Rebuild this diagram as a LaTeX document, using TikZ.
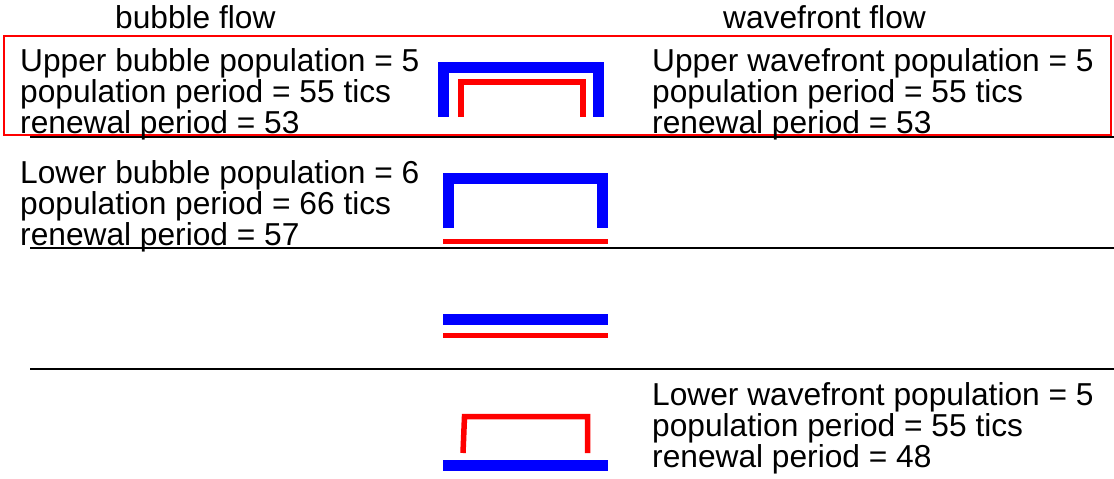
\documentclass[tikz,border=0pt]{standalone}
\usepackage{fontspec}
\setmainfont{Liberation Sans}
\begin{document}
\begin{tikzpicture}[x=1pt,y=-1pt,
  lbl/.style={anchor=base west,inner sep=0pt,font=\fontsize{31.7}{31}\selectfont},
  bluebar/.style={draw=blue,line width=11pt,line cap=butt,line join=miter},
  redbar/.style={draw=red,line width=5.5pt,line cap=butt,line join=miter},
  rule/.style={draw=black,line width=2pt}]
\useasboundingbox (0,0) rectangle (1114,479);
% titles
\node[lbl] (t1) at (115,28) {bubble flow};
\node[lbl] (t2) at (723,28) {wavefront flow};
% separator lines
\draw[rule] (30,137) -- (1114,137);
\draw[rule] (30,248) -- (1114,248);
\draw[rule] (30,369) -- (1114,369);
% highlight box
\draw[red,line width=2pt] (4,35.5) rectangle (1110.5,134.5);
% upper bubble text
\node[lbl] (ub1) at (20,71) {Upper bubble population = 5};
\node[lbl] (ub2) at (20,102) {population period = 55 tics};
\node[lbl] (ub3) at (20,133) {renewal period = 53};
% upper wavefront text
\node[lbl] (uw1) at (652,71) {Upper wavefront population = 5};
\node[lbl] (uw2) at (652,102) {population period = 55 tics};
\node[lbl] (uw3) at (652,133) {renewal period = 53};
% lower bubble text
\node[lbl] (lb1) at (20,183) {Lower bubble population = 6};
\node[lbl] (lb2) at (20,214) {population period = 66 tics};
\node[lbl] (lb3) at (20,245) {renewal period = 57};
% lower wavefront text
\node[lbl] (lw1) at (652,405) {Lower wavefront population = 5};
\node[lbl] (lw2) at (652,436) {population period = 55 tics};
\node[lbl] (lw3) at (652,467) {renewal period = 48};
% row 1 shapes
\draw[bluebar] (443.5,117) -- (443.5,67.5) -- (598,67.5) -- (598,117);
\draw[redbar,line width=6pt] (461,117) -- (461,82) -- (583,82) -- (583,117);
% row 2 shapes
\draw[bluebar] (448,228) -- (448,178) -- (602,178) -- (602,228);
\draw[redbar] (443,241.5) -- (608,241.5);
% row 3 shapes
\draw[bluebar] (443,319.5) -- (608,319.5);
\draw[redbar] (443,335.5) -- (608,335.5);
% row 4 shapes
\draw[redbar] (463,453) -- (464.5,416.5) -- (587.5,416.5) -- (587.5,453);
\draw[bluebar] (443,465.5) -- (608,465.5);
\end{tikzpicture}
\end{document}
